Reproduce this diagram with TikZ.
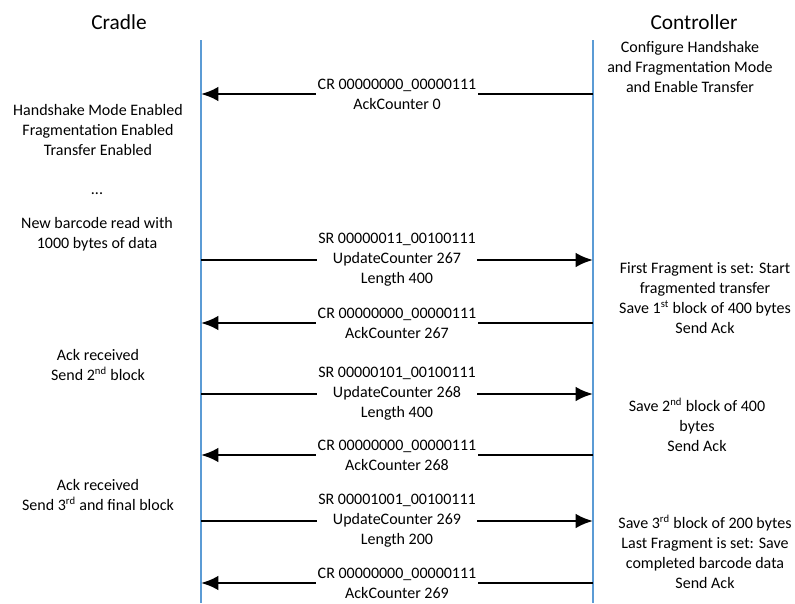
\documentclass[tikz,border=0pt]{standalone}
\usepackage{fontspec}
\setmainfont{Carlito}
\usetikzlibrary{arrows.meta}
\definecolor{lifeblue}{RGB}{91,155,213}

\begin{document}
\begin{tikzpicture}[x=0.75pt,y=-0.75pt,line cap=butt,
		msg/.style={line width=2pt,-{Latex[length=13pt,width=11pt]}},
		lbl/.style={fill=white,inner xsep=1pt,inner ysep=0pt,align=center,font=\fontsize{12}{15}\selectfont},
		note/.style={align=center,inner sep=0pt,font=\fontsize{12}{15}\selectfont},
		head/.style={inner sep=0pt,font=\fontsize{16}{19}\selectfont},
		life/.style={draw=lifeblue,line width=1.6pt}]
		\useasboundingbox (0,0) rectangle (795,603);
		% headers and lifelines
		\node[head] (cradle) at (119,22) {Cradle};
		\node[head] (ctrl) at (694,22) {Controller};
		\coordinate (cTop) at (201,40);
		\coordinate (cBot) at (201,603);
		\coordinate (kTop) at (593,40);
		\coordinate (kBot) at (593,603);
		\draw[life] (cTop) -- (cBot);
		\draw[life] (kTop) -- (kBot);
		% message ends on the lifelines
		\coordinate (c1) at (201,94);  \coordinate (k1) at (593,94);
		\coordinate (c2) at (201,260); \coordinate (k2) at (593,260);
		\coordinate (c3) at (201,323); \coordinate (k3) at (593,323);
		\coordinate (c4) at (201,394); \coordinate (k4) at (593,394);
		\coordinate (c5) at (201,455); \coordinate (k5) at (593,455);
		\coordinate (c6) at (201,521); \coordinate (k6) at (593,521);
		\coordinate (c7) at (201,583); \coordinate (k7) at (593,583);
		% messages
		\draw[msg] (k1) -- node[lbl] (m1) {CR 00000000\_00000111\\AckCounter 0} (c1);
		\draw[msg] (c2) -- node[lbl] (m2) {SR 00000011\_00100111\\UpdateCounter 267\\Length 400} (k2);
		\draw[msg] (k3) -- node[lbl] (m3) {CR 00000000\_00000111\\AckCounter 267} (c3);
		\draw[msg] (c4) -- node[lbl] (m4) {SR 00000101\_00100111\\UpdateCounter 268\\Length 400} (k4);
		\draw[msg] (k5) -- node[lbl] (m5) {CR 00000000\_00000111\\AckCounter 268} (c5);
		\draw[msg] (c6) -- node[lbl] (m6) {SR 00001001\_00100111\\UpdateCounter 269\\Length 200} (k6);
		\draw[msg] (k7) -- node[lbl] (m7) {CR 00000000\_00000111\\AckCounter 269} (c7);
		% cradle side
		\node[note] (n1) at (98,130) {Handshake Mode Enabled\\Fragmentation Enabled\\Transfer Enabled};
		\node[note] (n2) at (97,194) {...};
		\node[note] (n3) at (97,234) {New barcode read with\\1000 bytes of data};
		\node[note] (n4) at (98,365) {Ack received\\Send 2\textsuperscript{nd} block};
		\node[note] (n5) at (98,495) {Ack received\\Send 3\textsuperscript{rd} and final block};
		% controller side
		\node[note] (r1) at (690,67) {Configure Handshake\\and Fragmentation Mode\\and Enable Transfer};
		\node[note] (r2) at (705,298) {First Fragment is set: Start\\fragmented transfer\\Save 1\textsuperscript{st} block of 400 bytes\\Send Ack};
		\node[note] (r3) at (697,425) {Save 2\textsuperscript{nd} block of 400\\bytes\\Send Ack};
		\node[note] (r4) at (705,552) {Save 3\textsuperscript{rd} block of 200 bytes\\Last Fragment is set: Save\\completed barcode data\\Send Ack};
\end{tikzpicture}
\end{document}
